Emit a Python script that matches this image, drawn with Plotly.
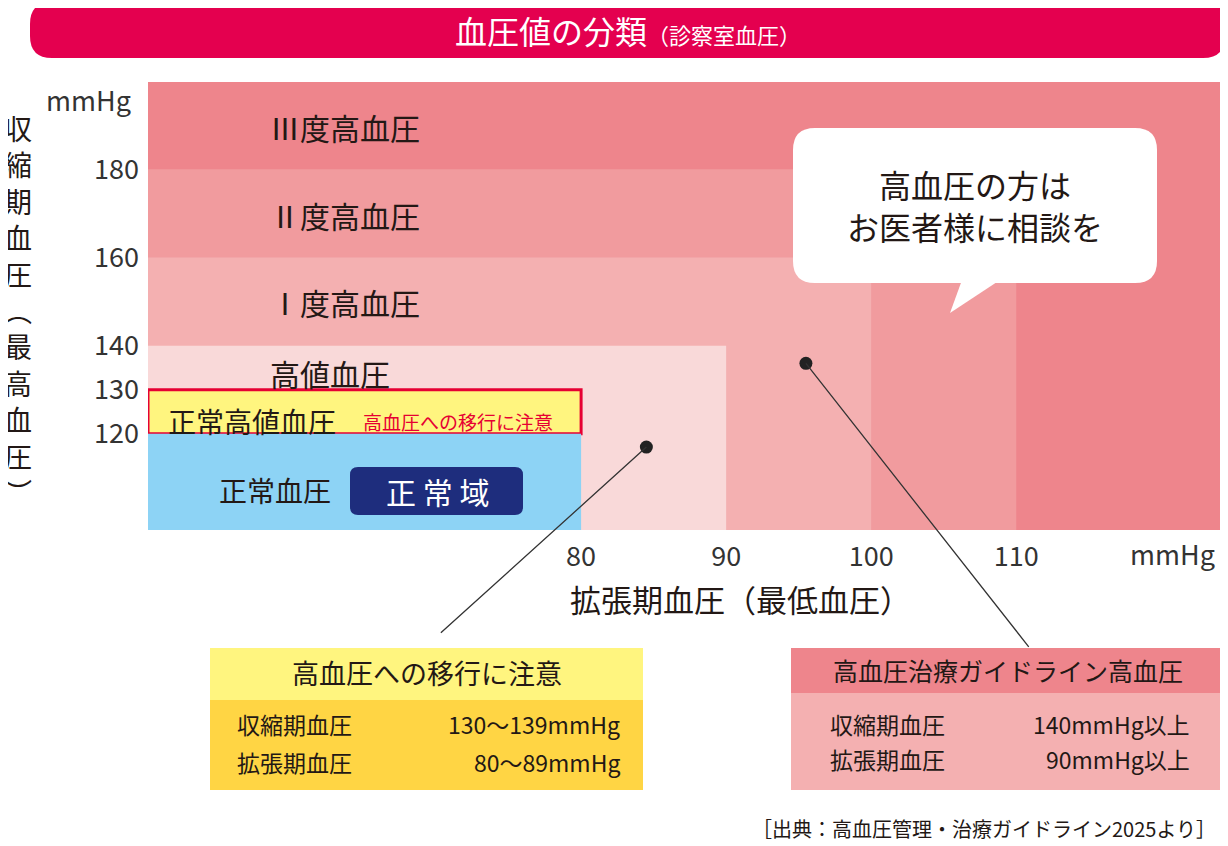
import plotly.graph_objects as go

FONT = "Noto Sans CJK JP"
OFF = 8
W, H = 1228 - OFF, 846 - OFF
L, R, T, B = 148, 1228, 82, 530

# data
sys_levels = [120, 130, 140, 160, 180]
dia_levels = [80, 90, 100, 110]
x_ticks = [80, 90, 100, 110]
y_ticks = [120, 130, 140, 160, 180]
x_min, x_max = 50.14, 124.6
y_min, y_max = 98.2, 199.8
band_labels = ["Ⅲ度高血圧", "Ⅱ度高血圧", "Ⅰ度高血圧", "高値血圧"]
dots_x = [84.5, 95.5]
dots_y = [117, 136]

def px(x): return (x - L) / (R - L)
def py(y): return (B - y) / (B - T)

def rrect(x0, y0, x1, y1, r):
    return (f"M{px(x0+r)},{py(y0)} L{px(x1-r)},{py(y0)} Q{px(x1)},{py(y0)} {px(x1)},{py(y0+r)} "
            f"L{px(x1)},{py(y1-r)} Q{px(x1)},{py(y1)} {px(x1-r)},{py(y1)} L{px(x0+r)},{py(y1)} "
            f"Q{px(x0)},{py(y1)} {px(x0)},{py(y1-r)} L{px(x0)},{py(y0+r)} Q{px(x0)},{py(y0)} {px(x0+r)},{py(y0)} Z")

fig = go.Figure()
shapes = []
cols = ["#EE858C", "#F19B9E", "#F4B0B1", "#F9D9D9"]
shapes.append(dict(type="rect", xref="x", yref="y", x0=x_min, x1=x_max, y0=y_min, y1=y_max, fillcolor=cols[0], line_width=0, layer="below"))
shapes.append(dict(type="rect", xref="x", yref="y", x0=x_min, x1=dia_levels[3], y0=y_min, y1=sys_levels[4], fillcolor=cols[1], line_width=0, layer="below"))
shapes.append(dict(type="rect", xref="x", yref="y", x0=x_min, x1=dia_levels[2], y0=y_min, y1=sys_levels[3], fillcolor=cols[2], line_width=0, layer="below"))
shapes.append(dict(type="rect", xref="x", yref="y", x0=x_min, x1=dia_levels[1], y0=y_min, y1=sys_levels[2], fillcolor=cols[3], line_width=0, layer="below"))
shapes.append(dict(type="rect", xref="x", yref="y", x0=x_min, x1=dia_levels[0], y0=sys_levels[0], y1=sys_levels[1], fillcolor="#FFF57F", line=dict(color="#E60033", width=3), layer="below"))
shapes.append(dict(type="rect", xref="x", yref="y", x0=x_min, x1=dia_levels[0], y0=y_min, y1=sys_levels[0], fillcolor="#8DD3F5", line_width=0, layer="below"))
shapes.append(dict(type="path", xref="paper", yref="paper", path=rrect(30, 2, 1225, 58, 22), fillcolor="#E4004F", line_width=0))
shapes.append(dict(type="path", xref="paper", yref="paper", path=rrect(350, 467, 523, 515, 8), fillcolor="#1E2D7D", line_width=0))
shapes.append(dict(type="path", xref="paper", yref="paper", path=rrect(793, 128, 1157, 283, 22), fillcolor="white", line_width=0))
shapes.append(dict(type="path", xref="paper", yref="paper",
                   path=f"M{px(962)},{py(280)} L{px(950)},{py(313)} L{px(1000)},{py(280)} Z", fillcolor="white", line_width=0))
shapes.append(dict(type="rect", xref="paper", yref="paper", x0=px(210), x1=px(643), y0=py(648), y1=py(700), fillcolor="#FFF57F", line_width=0))
shapes.append(dict(type="rect", xref="paper", yref="paper", x0=px(210), x1=px(643), y0=py(700), y1=py(790), fillcolor="#FFD544", line_width=0))
shapes.append(dict(type="rect", xref="paper", yref="paper", x0=px(791), x1=px(1225), y0=py(648), y1=py(693), fillcolor="#EE858C", line_width=0))
shapes.append(dict(type="rect", xref="paper", yref="paper", x0=px(791), x1=px(1225), y0=py(693), y1=py(790), fillcolor="#F4B0B1", line_width=0))

fig.add_trace(go.Scatter(x=dots_x, y=dots_y, mode="markers", marker=dict(color="#222", size=13), hoverinfo="skip", showlegend=False))

ann = []
def t(x, y, s, size, color="#231815", xa="center", **kw):
    ann.append(dict(x=px(x), y=py(y), xref="paper", yref="paper", text=s, showarrow=False,
                    font=dict(family=FONT, size=size, color=color), xanchor=xa, yanchor="middle", **kw))

t(628, 30, "血圧値の分類<span style='font-size:22px'>（診察室血圧）</span>", 32, "white")
for lab, yy in zip(band_labels, [127, 215, 302, 373]):
    t(345 if yy < 360 else 330, yy, lab, 30)
t(252, 421, "正常高値血圧", 28)
t(458, 421, "高血圧への移行に注意", 19, "#E60033")
t(275, 490, "正常血圧", 28)
t(437, 491, "正 常 域", 30, "white")
t(975, 205, "高血圧の方は<br>お医者様に相談を", 32)
t(88, 100, "mmHg", 27, "#333")
t(1172, 553, "mmHg", 27, "#333")
t(740, 598, "拡張期血圧（最低血圧）", 31)
t(18, 310, "<br>".join(list("収縮期血圧")) + "<br>︵<br>" + "<br>".join(list("最高血圧")) + "<br>︶", 28)
t(427, 672, "高血圧への移行に注意", 27)
t(235, 724, "収縮期血圧", 23, xa="left")
t(235, 762, "拡張期血圧", 23, xa="left")
t(622, 724, "130〜139mmHg", 23, xa="right")
t(622, 762, "80〜89mmHg", 23, xa="right")
t(1008, 670, "高血圧治療ガイドライン高血圧", 25)
t(828, 724, "収縮期血圧", 23, xa="left")
t(828, 759, "拡張期血圧", 23, xa="left")
t(1192, 724, "140mmHg以上", 23, xa="right")
t(1192, 759, "90mmHg以上", 23, xa="right")
t(1218, 828, "［出典：高血圧管理・治療ガイドライン2025より］", 20, xa="right")

ann.append(dict(x=dots_x[0], y=dots_y[0], xref="x", yref="y", ax=437 - 644, ay=648 - 461, text="",
                showarrow=True, arrowhead=0, arrowwidth=1.3, arrowcolor="#333"))
ann.append(dict(x=dots_x[1], y=dots_y[1], xref="x", yref="y", ax=1027 - 803, ay=648 - 363, text="",
                showarrow=True, arrowhead=0, arrowwidth=1.3, arrowcolor="#333"))

fig.update_layout(
    width=W, height=H, margin=dict(l=L - OFF, r=W - (R - OFF), t=T - OFF, b=H - (B - OFF)),
    paper_bgcolor="white", plot_bgcolor="white", shapes=shapes, annotations=ann, showlegend=False,
    xaxis=dict(range=[x_min, x_max], tickvals=x_ticks, ticktext=[str(v) for v in x_ticks], showgrid=False,
               zeroline=False, ticks="", tickfont=dict(family=FONT, size=27, color="#333"), ticklabelstandoff=8, fixedrange=True),
    yaxis=dict(range=[y_min, y_max], tickvals=y_ticks, ticktext=[str(v) for v in y_ticks], showgrid=False,
               zeroline=False, ticks="", tickfont=dict(family=FONT, size=27, color="#333"), ticklabelstandoff=8, fixedrange=True),
)
fig.write_html("out.html")
